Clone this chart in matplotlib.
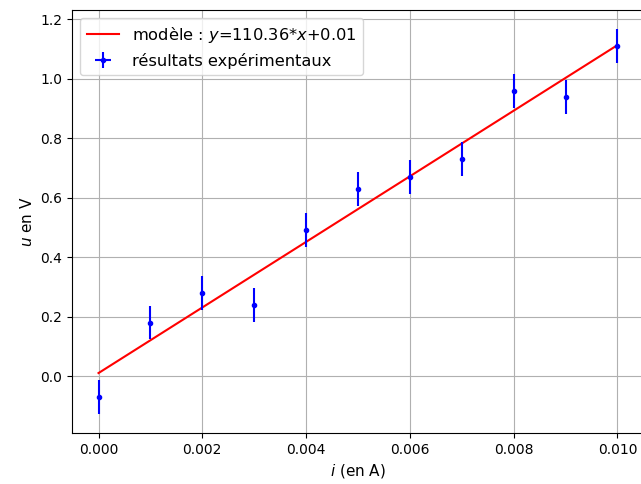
import matplotlib
matplotlib.use("Agg")
import matplotlib.pyplot as plt
import numpy as np

i_vals = [0.000, 0.001, 0.002, 0.003, 0.004, 0.005, 0.006, 0.007, 0.008, 0.009, 0.010]
u_vals = [-0.07, 0.18, 0.28, 0.24, 0.49, 0.63, 0.67, 0.73, 0.96, 0.94, 1.11]
u_err = [0.057] * len(u_vals)
i_err = [0.00001] * len(i_vals)
slope = 110.36
intercept = 0.01

fig = plt.figure(figsize=(6.41, 4.84), dpi=100)
W, H = 641, 484
ax = fig.add_axes([72 / W, (H - 433) / H, (644 - 72) / W, (433 - 10) / H])

x = np.array(i_vals)
ax.plot(x, slope * x + intercept, color="red",
        label=f"modèle : $y$={slope}*$x$+{intercept}")
ax.errorbar(i_vals, u_vals, yerr=u_err, xerr=i_err, fmt=".", color="blue",
            label="résultats expérimentaux")
ax.set_xlabel("$i$ (en A)", fontsize=11)
ax.set_ylabel("$u$ en V", fontsize=11)
ax.spines["right"].set_visible(False)
ax.grid(True)
ax.legend(loc="upper left", fontsize=11.7)

fig.savefig("out.png", dpi=100)
